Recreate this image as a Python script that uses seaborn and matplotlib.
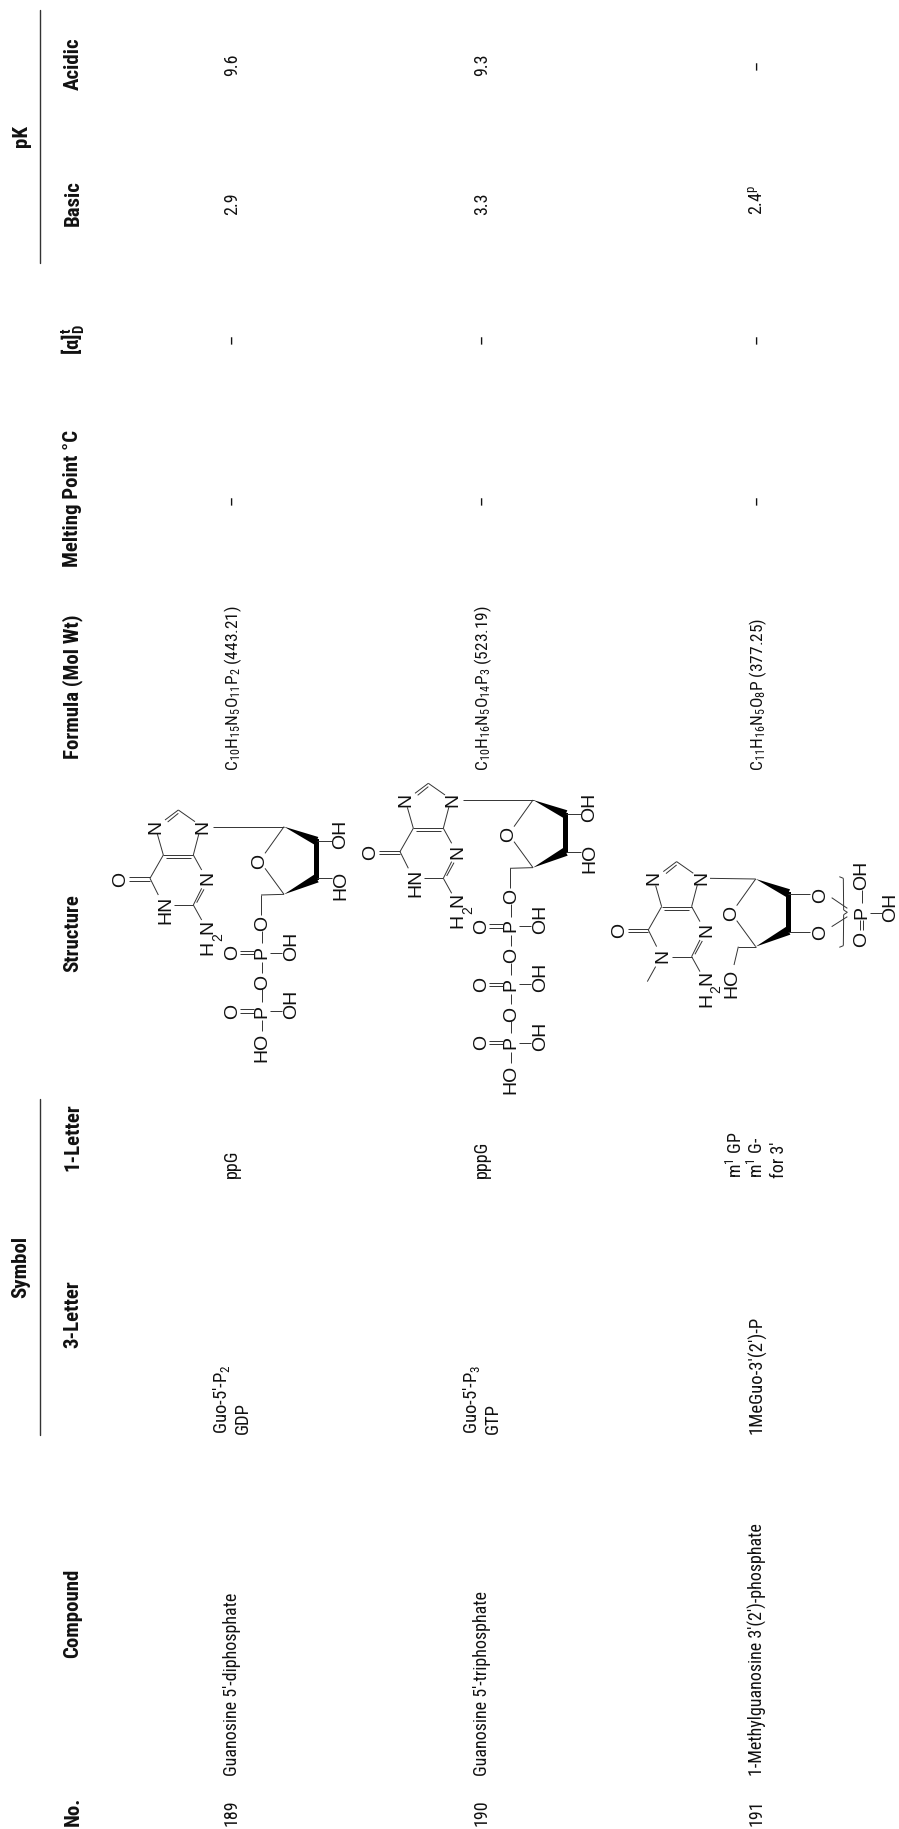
import matplotlib
matplotlib.use('Agg')
import matplotlib.pyplot as plt
import seaborn as sns

sns.set_theme(style='white')
plt.rcParams['font.family'] = ['Roboto Condensed', 'Liberation Sans', 'DejaVu Sans']
plt.rcParams['mathtext.default'] = 'regular'

# table content
headers = ['No.', 'Compound', '3-Letter', '1-Letter', 'Structure', 'Formula (Mol Wt)',
           'Melting Point \u00b0C', r'[$\alpha$]$_{D}^{t}$', 'Basic', 'Acidic']
header_y = [1826, 1658, 1348, 1171, 972, 759, 567, 355, 226, 90]
span_names = ['Symbol', 'pK']
span_y = [1298, 147]
numbers = ['189', '190', '191']
compounds = ['Guanosine 5\u2032-diphosphate', 'Guanosine 5\u2032-triphosphate',
             '1-Methylguanosine 3\u2032(2\u2032)-phosphate']
three_letter = [['Guo-5\u2032-P$_{2}$', 'GDP'], ['Guo-5\u2032-P$_{3}$', 'GTP'], ['1MeGuo-3\u2032(2\u2032)-P']]
one_letter = [['ppG'], ['pppG'], ['m$^{1}$ GP', 'm$^{1}$ G-', 'for 3\u2032']]
formulas = ['C$_{10}$H$_{15}$N$_{5}$O$_{11}$P$_{2}$ (443.21)',
            'C$_{10}$H$_{16}$N$_{5}$O$_{14}$P$_{3}$ (523.19)',
            'C$_{11}$H$_{16}$N$_{5}$O$_{8}$P (377.25)']
melting = ['\u2013', '\u2013', '\u2013']
rotation_vals = ['\u2013', '\u2013', '\u2013']
pk_basic = ['2.9', '3.3', '2.4$^{p}$']
pk_acidic = ['9.6', '9.3', '\u2013']
row_x = [232, 482, 757]

fig, ax = plt.subplots(figsize=(8.99, 18.29), dpi=100)
fig.subplots_adjust(0, 0, 1, 1)
ax.set_xlim(0, 899)
ax.set_ylim(1829, 0)
ax.set_axis_off()


def vtext(x, y, s, size=13, weight='normal', va='bottom'):
    ax.text(x, y, s, rotation=90, ha='center', va=va, fontsize=size, fontweight=weight, color='#111111')


# header
for h, y in zip(headers, header_y):
    vtext(73, y, h, size=15, weight='bold')
for h, y in zip(span_names, span_y):
    vtext(21, y, h, size=15, weight='bold')
ax.plot([40, 40], [10, 263], color='#333333', lw=1)
ax.plot([40, 40], [1099, 1435], color='#333333', lw=1)

# rows
line_gap = 21.5
for i, x in enumerate(row_x):
    vtext(x, 1826, numbers[i])
    vtext(x, 1776, compounds[i])
    lines = three_letter[i]
    off = -(len(lines) - 1) / 2 * line_gap
    for j, s in enumerate(lines):
        vtext(x + off + j * line_gap, 1434, s, size=13.5)
    lines = one_letter[i]
    off = -(len(lines) - 1) / 2 * line_gap
    for j, s in enumerate(lines):
        vtext(x + off + j * line_gap, 1178, s)
    vtext(x + 1, 771, formulas[i], size=12.5)
    vtext(x, 500, melting[i], va='center')
    vtext(x, 339, rotation_vals[i], va='center')
    vtext(x, 215, pk_basic[i])
    if pk_acidic[i] == '\u2013':
        vtext(x, 65, pk_acidic[i], va='center')
    else:
        vtext(x, 76, pk_acidic[i])


# chemical drawings, coordinates in 3x units from an origin
def seg(o, a, b, lw=0.7):
    ax.plot([o[0] + a[0] / 3, o[0] + b[0] / 3], [o[1] + a[1] / 3, o[1] + b[1] / 3],
            color='#333333', lw=lw, solid_capstyle='butt')


def atom(o, p, s):
    ax.text(o[0] + p[0] / 3, o[1] + p[1] / 3, s, rotation=90, ha='center', va='center',
            fontsize=14, family='Liberation Sans', color='#111111')


def wedge(o, tip, end, half):
    ax.fill([o[0] + tip[0] / 3, o[0] + (end[0] - half[0]) / 3, o[0] + (end[0] + half[0]) / 3],
            [o[1] + tip[1] / 3, o[1] + (end[1] - half[1]) / 3, o[1] + (end[1] + half[1]) / 3],
            color='black', lw=0)


def base(o, methyl=False):
    atom(o, (168, 200), 'N')
    atom(o, (310, 200), 'N')
    atom(o, (325, 355), 'N')
    atom(o, (63, 357), 'O')
    seg(o, (195, 180), (235, 150))
    seg(o, (203, 186), (235, 160))
    seg(o, (235, 150), (285, 185))
    seg(o, (172, 222), (190, 285))
    seg(o, (297, 220), (280, 285))
    seg(o, (190, 285), (280, 285))
    seg(o, (198, 294), (272, 294))
    seg(o, (190, 285), (150, 355))
    seg(o, (88, 352), (150, 352))
    seg(o, (88, 362), (150, 362))
    seg(o, (150, 355), (175, 405))
    seg(o, (280, 285), (305, 330))
    seg(o, (222, 435), (280, 435))
    seg(o, (280, 435), (305, 385))
    seg(o, (290, 428), (312, 388))
    seg(o, (280, 435), (305, 480))
    if methyl:
        atom(o, (195, 433), 'N')
        seg(o, (172, 465), (147, 510))
    else:
        atom(o, (197, 450), 'HN')
    atom(o, (325, 500), 'N')
    atom(o, (325, 564), 'H')
    ax.text(o[0] + 118, o[1] + 177, '2', rotation=90, ha='center', va='center',
            fontsize=10, family='Liberation Sans', color='#111111')


def sugar(o):
    atom(o, (480, 303), 'O')
    seg(o, (552, 200), (495, 280))
    seg(o, (495, 325), (552, 403))
    wedge(o, (552, 200), (650, 243), (5, -12))
    wedge(o, (552, 403), (650, 355), (6, 12))
    ax.fill([o[0] + 643 / 3, o[0] + 657 / 3, o[0] + 657 / 3, o[0] + 643 / 3],
            [o[1] + 238 / 3, o[1] + 238 / 3, o[1] + 360 / 3, o[1] + 360 / 3], color='black', lw=0)


def chain(o, n):
    seg(o, (552, 403), (483, 405))
    seg(o, (483, 405), (483, 465))
    atom(o, (487, 490), 'O')
    y = 578
    for k in range(n):
        atom(o, (485, y), 'P')
        atom(o, (398, y), 'O')
        atom(o, (575, y - 20), 'OH')
        seg(o, (420, y - 5), (462, y - 5))
        seg(o, (420, y + 5), (462, y + 5))
        seg(o, (510, y), (545, y))
        seg(o, (485, y - 65), (485, y - 28))
        seg(o, (485, y + 28), (485, y + 60))
        if k < n - 1:
            atom(o, (487, y + 89), 'O')
            y += 175
    atom(o, (487, y + 110), 'HO')


def ring_oh(o):
    atom(o, (722, 222), 'OH')
    atom(o, (722, 375), 'HO')
    seg(o, (650, 243), (695, 243))
    seg(o, (650, 355), (695, 355))


# GDP
o_a = (100, 760)
base(o_a)
seg(o_a, (338, 200), (552, 200))
sugar(o_a)
chain(o_a, 2)
ring_oh(o_a)

# GTP
o_c = (349, 733.3)
base((350, 733.3))
seg((350, 733.3), (338, 200), (552, 200))
sugar(o_c)
chain(o_c, 3)
ring_oh(o_c)

# 1-methyl guanosine phosphate
o_b = (598.3, 811.6)
o_s = (571.7, 812.3)
o_p = (560, 780)
base(o_b, methyl=True)
seg(o_p, (450, 295), (587, 297))
sugar(o_s)
seg(o_p, (587, 500), (535, 500))
seg(o_p, (535, 500), (522, 555))
atom(o_p, (517, 610), 'HO')
atom(o_p, (783, 345), 'O')
atom(o_p, (783, 458), 'O')
seg(o_p, (683, 342), (750, 342))
seg(o_p, (683, 457), (750, 457))
seg(o_p, (815, 353), (862, 385))
seg(o_p, (815, 440), (862, 410))
for a, b in [((838, 290), (850, 295)), ((850, 295), (851, 390)), ((851, 390), (862, 397)),
             ((862, 397), (851, 404)), ((851, 404), (850, 497)), ((850, 497), (838, 502))]:
    seg(o_p, a, b)
atom(o_p, (905, 397), 'P')
atom(o_p, (905, 478), 'O')
atom(o_p, (905, 285), 'OH')
atom(o_p, (992, 383), 'OH')
seg(o_p, (905, 370), (905, 330))
seg(o_p, (930, 400), (965, 400))
seg(o_p, (900, 420), (900, 450))
seg(o_p, (910, 420), (910, 450))

fig.savefig('out.png', dpi=100, facecolor='white')
